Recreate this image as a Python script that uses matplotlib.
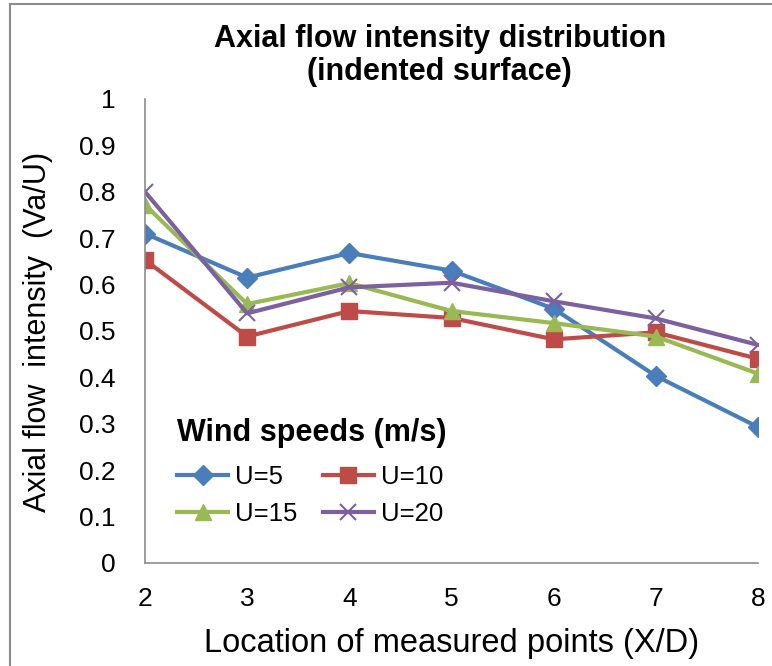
import matplotlib.pyplot as plt
from matplotlib.patches import Rectangle

# measured points (X/D) and axial flow intensity Va/U for each wind speed
locations = [2, 3, 4, 5, 6, 7, 8]
u5 = [0.710, 0.615, 0.668, 0.630, 0.548, 0.403, 0.293]
u10 = [0.653, 0.488, 0.543, 0.528, 0.482, 0.497, 0.440]
u15 = [0.772, 0.558, 0.603, 0.543, 0.517, 0.488, 0.408]
u20 = [0.800, 0.538, 0.594, 0.604, 0.564, 0.527, 0.470]
labels = ['U=5', 'U=10', 'U=15', 'U=20']

plt.rcParams['font.family'] = ['Liberation Sans', 'DejaVu Sans']

fig = plt.figure(figsize=(7.72, 6.66), dpi=100)
# chart area border (only left/top edges fall inside the picture)
fig.patches.append(Rectangle((10 / 772, -0.1), 1.2, 0.1 + 662 / 666, transform=fig.transFigure,
                             fill=False, edgecolor='#8c8c8c', lw=1.5))
ax = fig.add_axes([0.1878, 0.1547, 0.7941, 0.6967])

l5, = ax.plot(locations, u5, color='#4A7EBB', lw=3, marker='D', ms=10, label=labels[0])
l10, = ax.plot(locations, u10, color='#BE4B48', lw=3, marker='s', ms=11, label=labels[1])
l15, = ax.plot(locations, u15, color='#98B954', lw=3, marker='^', ms=12, label=labels[2])
l20, = ax.plot(locations, u20, color='#7D60A0', lw=3, marker='x', ms=11, mew=1.5, label=labels[3])

ax.set_xlim(2, 8)
ax.set_ylim(0, 1)
ax.set_xticks(locations)
ax.set_yticks([i / 10 for i in range(11)])
ax.set_yticklabels(['0'] + ['0.%d' % i for i in range(1, 10)] + ['1'])
ax.tick_params(length=0, labelsize=19)
ax.tick_params(axis='x', pad=17)
ax.tick_params(axis='y', pad=21)
for s in ['top', 'right']:
    ax.spines[s].set_visible(False)
for s in ['left', 'bottom']:
    ax.spines[s].set_color('#8c8c8c')
    ax.spines[s].set_linewidth(1.2)

ax.set_title('Axial flow intensity distribution\n(indented surface)', x=0.481,
             fontsize=22, fontweight='bold', pad=14, linespacing=1.1)
ax.set_xlabel('Location of measured points (X/D)', fontsize=23.5)
ax.xaxis.set_label_coords(0.5, -0.14)
ax.set_ylabel('Axial flow  intensity  (Va/U)', fontsize=22)
ax.yaxis.set_label_coords(-0.150, 0.498)

leg = ax.legend([l5, l15, l10, l20], [labels[0], labels[2], labels[1], labels[3]],
                ncol=2, frameon=False, loc='upper left', bbox_to_anchor=(0.031, 0.34),
                borderpad=0, title='Wind speeds (m/s)', fontsize=18.5, handlelength=2.0,
                columnspacing=1.0, handletextpad=0.25, labelspacing=0.5)
leg.get_title().set_fontweight('bold')
leg.get_title().set_fontsize(22)
leg._legend_box.align = 'left'
leg._legend_box.sep = 12

fig.savefig('out.png', dpi=100)
